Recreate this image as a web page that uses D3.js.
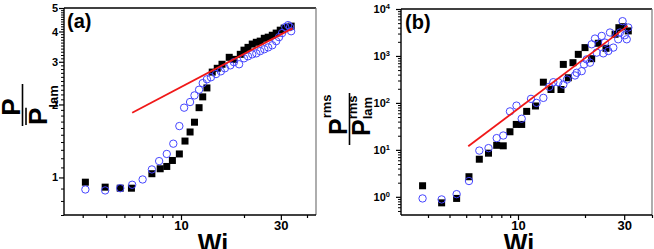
<!DOCTYPE html>
<html><head><meta charset="utf-8">
<script src="https://cdn.jsdelivr.net/npm/d3@7"></script>
<style>
body{margin:0;background:#fff;}
svg{display:block;}
</style>
</head><body>
<svg id="c" width="654" height="249"></svg>
<script>
// ---------- DATA ----------
// shared tick values
const xTicksMinor = [3, 4, 5, 6, 7, 8, 9, 20, 40];
const xTicksMajor = [10, 30];
const yTicksA = [1, 2, 3, 4, 5];
const yMinorA = [0.7, 0.8, 0.9, 1.1, 1.2, 1.3, 1.4, 1.5, 1.6, 1.7, 1.8, 1.9, 2.1, 2.2, 2.3, 2.4, 2.5, 2.6, 2.7, 2.8, 2.9,
                 3.1, 3.2, 3.3, 3.4, 3.5, 3.6, 3.7, 3.8, 3.9, 4.1, 4.2, 4.3, 4.4, 4.5, 4.6, 4.7, 4.8, 4.9];
const yTicksB = [1, 10, 100, 1000, 10000];
const yExpB = ["0", "1", "2", "3", "4"];
const yMinorB = [0.5, 0.6, 0.7, 0.8, 0.9, 2, 3, 4, 5, 6, 7, 8, 9, 20, 30, 40, 50, 60, 70, 80, 90,
                 200, 300, 400, 500, 600, 700, 800, 900, 2000, 3000, 4000, 5000, 6000, 7000, 8000, 9000];

// panel (a): mean pressure ratio
const aSqWi = [3.1, 3.95, 4.75, 5.45, 7.0, 7.75, 8.4, 9.0, 9.8, 10.45, 11.05, 11.6, 12.2, 12.7, 13.3, 14.1, 14.9, 15.7,
               17.0, 17.9, 19.2, 20.0, 20.9, 21.9, 22.9, 23.9, 25.0, 26.1, 27.3, 28.5, 29.8, 31.1, 32.5, 33.6];
const aSqP  = [0.956, 0.912, 0.903, 0.903, 1.036, 1.086, 1.11, 1.175, 1.25, 1.413, 1.54, 1.69, 1.94, 2.15, 2.34, 2.72, 2.82, 2.93,
               3.13, 3.07, 3.22, 3.35, 3.44, 3.55, 3.61, 3.65, 3.75, 3.79, 3.86, 3.94, 4.05, 4.13, 4.17, 4.21];
const aCiWi = [3.1, 3.95, 4.75, 5.5, 6.25, 7.0, 7.65, 8.4, 9.1, 9.8, 10.35, 11.05, 11.6, 12.2, 12.7, 13.3, 13.9, 14.7, 15.5,
               16.2, 17.2, 17.9, 18.95, 20.0, 20.9, 21.9, 22.9, 23.9, 25.0, 26.1, 27.3, 28.5, 29.4, 30.4, 31.5, 32.5, 33.2, 33.6];
const aCiP  = [0.892, 0.884, 0.903, 0.933, 0.981, 1.079, 1.168, 1.25, 1.378, 1.629, 1.94, 2.047, 2.18, 2.30, 2.45, 2.54, 2.59, 2.67, 2.74,
               2.82, 2.90, 2.99, 2.93, 3.10, 3.16, 3.22, 3.25, 3.32, 3.38, 3.44, 3.51, 3.65, 3.79, 3.94, 4.17, 4.25, 4.17, 4.01];
const aFitWi = [5.5, 34.1];
const aFitP  = [1.85, 4.12];

// panel (b): rms pressure ratio
const bSqWi = [2.79, 3.6, 4.4, 5.19, 5.96, 6.74, 7.52, 8.21, 8.98, 9.77, 10.39, 10.94, 11.98, 13.0, 14.07, 15.6, 15.98, 16.83,
               17.66, 18.66, 20.0, 21.43, 22.95, 24.85, 27.3, 28.4, 29.7, 31.3];
const bSqP  = [1.72, 0.744, 0.924, 2.68, 6.32, 8.5, 12.5, 12.2, 24.3, 34.8, 34.8, 66, 86, 276, 193, 193, 661, 343,
               719, 1082, 1506, 875, 1862, 1455, 2900, 4000, 4200, 3415];
const bCiWi = [2.79, 3.6, 4.4, 5.19, 5.96, 6.74, 7.52, 8.21, 8.98, 9.8, 10.39, 11.44, 12.11, 13.0, 13.82, 14.41, 15.17, 15.98,
               16.6, 18.03, 18.35, 19.33, 19.8, 20.35, 21.06, 21.43, 22.18, 22.57, 23.77, 24.17, 24.6, 25.45, 25.9, 26.8,
               28.2, 28.7, 29.5, 30.2, 30.8, 31.3];
const bCiP  = [0.924, 0.88, 1.14, 2.17, 9.66, 10.9, 17.8, 20.2, 66, 87.5, 46.1, 122, 100, 128, 220, 276, 276, 246,
               315, 384, 439, 475, 661, 846, 719, 1771, 2346, 1177, 2668, 1137, 1927, 1274, 3155, 1506,
               2266, 3155, 5505, 2761, 2266, 4036];
const bFitWi = [5.14, 31.1];
const bFitP  = [11.9, 4368];

// ---------- DRAW ----------
const FONT = '"Liberation Sans", Arial, Helvetica, sans-serif';
const svg = d3.select('#c');

function styleText(sel, size) {
  sel.attr('font-family', FONT).attr('font-weight', 'bold').attr('font-size', size).attr('fill', '#000');
}

function drawPanel(o) {
  const g = svg.append('g');
  const x = d3.scaleLog().domain(o.xDom).range(o.xRange);
  const y = d3.scaleLog().domain(o.yDom).range([o.bottom, o.top]);

  // x minor ticks
  g.append('g').attr('transform', `translate(0,${o.bottom})`)
    .call(d3.axisBottom(x).tickValues(xTicksMinor).tickSize(3).tickFormat(''))
    .call(a => a.select('.domain').remove())
    .call(a => a.selectAll('line').attr('stroke-width', 1.2));
  // x major ticks
  g.append('g').attr('transform', `translate(0,${o.bottom})`)
    .call(d3.axisBottom(x).tickValues(xTicksMajor).tickSize(5).tickPadding(1).tickFormat(d3.format('d')))
    .call(a => a.select('.domain').remove())
    .call(a => a.selectAll('line').attr('stroke-width', 1.2))
    .call(a => styleText(a.selectAll('text'), 13));

  // y minor
  g.append('g').attr('transform', `translate(${o.left},0)`)
    .call(d3.axisLeft(y).tickValues(o.yMinor).tickSize(3).tickFormat(''))
    .call(a => a.select('.domain').remove())
    .call(a => a.selectAll('line').attr('stroke-width', 1));
  // y major
  const ya = g.append('g').attr('transform', `translate(${o.left},0)`)
    .call(d3.axisLeft(y).tickValues(o.yMajor).tickSize(5).tickPadding(o.yPad).tickFormat(o.yFmt))
    .call(a => a.select('.domain').remove())
    .call(a => a.selectAll('line').attr('stroke-width', 1.2))
    .call(a => styleText(a.selectAll('text'), 11));
  if (o.yExp) {
    ya.selectAll('.tick text').each(function(d, i) {
      const t = d3.select(this).text('10');
      t.append('tspan').attr('font-size', 7.5).attr('dy', '-0.55em').text(o.yExp[i]);
    });
  }

  // frame
  const fr = g.append('g').attr('fill', 'none');
  fr.append('line').attr('x1', o.left).attr('x2', o.right).attr('y1', o.top).attr('y2', o.top).attr('stroke', '#000').attr('stroke-width', 1.3);
  fr.append('line').attr('x1', o.right).attr('x2', o.right).attr('y1', o.top).attr('y2', o.bottom).attr('stroke', '#777').attr('stroke-width', 1.2);
  fr.append('line').attr('x1', o.left).attr('x2', o.left).attr('y1', o.top).attr('y2', o.bottom).attr('stroke', '#000').attr('stroke-width', 1.4);
  fr.append('line').attr('x1', o.left).attr('x2', o.right).attr('y1', o.bottom).attr('y2', o.bottom).attr('stroke', '#000').attr('stroke-width', 1.4);

  // squares
  g.append('g').selectAll('rect').data(d3.zip(o.sqWi, o.sqP)).join('rect')
    .attr('x', d => x(d[0]) - 3.5).attr('y', d => y(d[1]) - 3.5)
    .attr('width', 7).attr('height', 7).attr('fill', '#000');
  // circles
  g.append('g').selectAll('circle').data(d3.zip(o.ciWi, o.ciP)).join('circle')
    .attr('cx', d => x(d[0])).attr('cy', d => y(d[1])).attr('r', 3.7)
    .attr('fill', 'none').attr('stroke', '#4646ff').attr('stroke-width', 1);
  // fit line
  g.append('path').datum(d3.zip(o.fitWi, o.fitP))
    .attr('d', d3.line().x(d => x(d[0])).y(d => y(d[1])))
    .attr('fill', 'none').attr('stroke', '#f01818').attr('stroke-width', 1.8);

  // panel tag
  styleText(g.append('text').attr('x', o.tagX).attr('y', o.tagY).text(o.tag), 20);
  // x title
  styleText(g.append('text').attr('x', o.wiX).attr('y', 252).attr('text-anchor', 'middle').text('Wi'), 25);
}

drawPanel({
  left: 64, right: 316, top: 8, bottom: 215,
  xDom: [3, 10, 40], xRange: [82.7, 181, 307],
  yDom: [0.7, 5], yMajor: yTicksA, yMinor: yMinorA, yPad: 1, yFmt: d3.format('d'),
  sqWi: aSqWi, sqP: aSqP, ciWi: aCiWi, ciP: aCiP, fitWi: aFitWi, fitP: aFitP,
  tag: '(a)', tagX: 67, tagY: 28, wiX: 213
});
drawPanel({
  left: 401, right: 652, top: 9, bottom: 215,
  xDom: [3, 10, 40], xRange: [428, 518, 652],
  yDom: [0.41, 10000], yMajor: yTicksB, yMinor: yMinorB, yPad: 6, yFmt: d3.format('d'), yExp: yExpB,
  sqWi: bSqWi, sqP: bSqP, ciWi: bCiWi, ciP: bCiP, fitWi: bFitWi, fitP: bFitP,
  tag: '(b)', tagX: 405, tagY: 29, wiX: 519
});

// ---------- Y TITLES (rotated fractions) ----------
// in rotate(-90) frame: local (u,v) -> screen (v, -u)
const ta = svg.append('g').attr('transform', 'rotate(-90)');
styleText(ta.append('text').attr('x', -115.7).attr('y', 20).text('P'), 26);
ta.append('line').attr('x1', -115.7).attr('x2', -98.4).attr('y1', -1.5).attr('y2', -1.5).attr('stroke', '#000').attr('stroke-width', 2);
ta.append('line').attr('x1', -126).attr('x2', -84).attr('y1', 22.5).attr('y2', 22.5).attr('stroke', '#000').attr('stroke-width', 1.6);
ta.append('line').attr('x1', -125).attr('x2', -107.7).attr('y1', 26).attr('y2', 26).attr('stroke', '#000').attr('stroke-width', 1.6);
styleText(ta.append('text').attr('x', -125).attr('y', 47).text('P'), 26);
styleText(ta.append('text').attr('x', -107.7).attr('y', 58).text('lam'), 13);

const tb = svg.append('g').attr('transform', 'rotate(-90)');
styleText(tb.append('text').attr('x', -135).attr('y', 347).text('P'), 25);
styleText(tb.append('text').attr('x', -118.3).attr('y', 331).text('rms'), 13);
tb.append('line').attr('x1', -145).attr('x2', -93).attr('y1', 349.5).attr('y2', 349.5).attr('stroke', '#000').attr('stroke-width', 1.6);
styleText(tb.append('text').attr('x', -136).attr('y', 370).text('P'), 25);
styleText(tb.append('text').attr('x', -119.3).attr('y', 357).text('rms'), 13);
styleText(tb.append('text').attr('x', -119.3).attr('y', 372).text('lam'), 13);
</script>
</body></html>
